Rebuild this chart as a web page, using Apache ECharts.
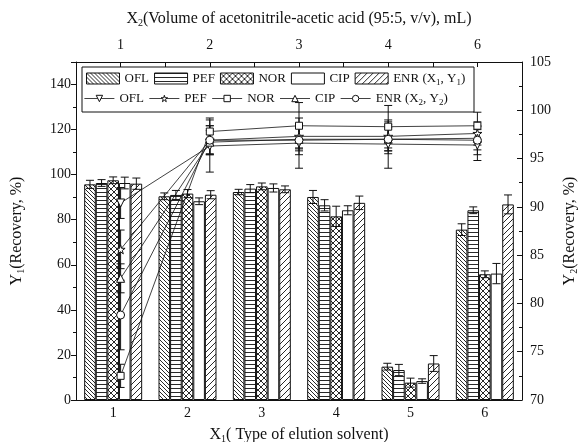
<!DOCTYPE html>
<html>
<head>
<meta charset="UTF-8">
<script src="https://cdn.jsdelivr.net/npm/echarts@6/dist/echarts.min.js"></script>
<style>
  html, body { margin: 0; padding: 0; background: #fff; }
  #main { width: 584px; height: 442px; }
</style>
</head>
<body>
<div id="main"></div>
<script>
// X1 categories (bottom) and bar data (Y1, left axis)
var cats = ['1', '2', '3', '4', '5', '6'];
var barNames = ['OFL', 'PEF', 'NOR', 'CIP', 'ENR (X1, Y1)'];
var oflBar = [95.7, 90.4, 92.3, 90.1, 14.8, 75.6];
var oflBarErr = [1.8, 1.5, 1.2, 2.9, 1.5, 2.6];
var pefBar = [96.3, 91.0, 93.8, 86.4, 13.3, 84.2];
var pefBarErr = [1.5, 2.0, 1.8, 2.5, 2.5, 1.5];
var norBar = [97.5, 91.6, 94.8, 81.5, 7.7, 55.8];
var norBarErr = [1.5, 1.8, 1.5, 4.5, 2.0, 1.5];
var cipBar = [96.3, 88.2, 94.1, 84.2, 8.4, 56.1];
var cipBarErr = [2.6, 1.5, 1.8, 2.0, 1.0, 4.5];
var enrBar = [96.0, 91.1, 93.5, 87.5, 16.2, 86.8];
var enrBarErr = [2.5, 1.8, 1.5, 3.0, 3.5, 4.2];

// X2 (top) and line data (Y2, right axis)
var x2Labels = ['1', '2', '3', '4', '6'];
var lineNames = ['OFL_2', 'PEF_2', 'NOR_2', 'CIP_2', 'ENR (X2, Y2)'];
var oflLine = [90.4, 96.3, 96.6, 96.5, 96.4];
var oflLineErr = [1.6, 2.7, 2.6, 2.5, 1.6];
var pefLine = [85.6, 96.9, 97.3, 97.3, 97.6];
var pefLineErr = [2.0, 1.5, 1.2, 1.5, 1.2];
var norLine = [72.5, 97.8, 98.4, 98.3, 98.4];
var norLineErr = [1.2, 1.4, 2.4, 2.2, 1.4];
var cipLine = [82.6, 96.7, 97.0, 97.0, 97.1];
var cipLineErr = [1.5, 1.2, 1.2, 1.2, 1.2];
var enrLine = [78.8, 96.9, 96.9, 97.0, 96.9];
var enrLineErr = [3.6, 1.5, 1.5, 1.5, 1.5];

var FONT = 'Liberation Serif';
var CAT_GAP = 0.22;

// hatch patterns for the bars
function hatch(kind, s) {
    var c = document.createElement('canvas');
    c.width = s; c.height = s;
    var g = c.getContext('2d');
    g.fillStyle = '#fff';
    g.fillRect(0, 0, s, s);
    g.strokeStyle = '#111';
    g.lineWidth = 0.9;
    g.beginPath();
    if (kind == 'h') {
        g.moveTo(0, 0.5); g.lineTo(s, 0.5);
    }
    if (kind == 'b' || kind == 'x') {
        for (var k = -1; k <= 1; k++) { g.moveTo(k * s, 0); g.lineTo(k * s + s, s); }
    }
    if (kind == 'f' || kind == 'x') {
        for (var k = -1; k <= 1; k++) { g.moveTo(k * s, s); g.lineTo(k * s + s, 0); }
    }
    g.stroke();
    return { image: c, repeat: 'repeat' };
}

var barData = [oflBar, pefBar, norBar, cipBar, enrBar];
var barErr = [oflBarErr, pefBarErr, norBarErr, cipBarErr, enrBarErr];
var barFill = [hatch('b', 4), hatch('h', 4), hatch('x', 6), '#fff', hatch('f', 6)];

var lineData = [oflLine, pefLine, norLine, cipLine, enrLine];
var lineErr = [oflLineErr, pefLineErr, norLineErr, cipLineErr, enrLineErr];
var star = 'path://M50,0 L61,35 L98,35 L68,57 L79,91 L50,70 L21,91 L32,57 L2,35 L39,35 Z';
var lineSymbols = ['triangle', star, 'rect', 'triangle', 'circle'];
var lineRotate = [180, 0, 0, 0, 0];
var lineSizes = [8, 9, 7, 8, 8];

var series = [];
for (var i = 0; i < 5; i++) {
    series.push({
        name: barNames[i],
        type: 'bar',
        data: barData[i],
        barGap: '0%',
        barCategoryGap: (CAT_GAP * 100) + '%',
        itemStyle: { color: barFill[i], borderColor: '#111', borderWidth: 1 },
        z: 2
    });
}

var barErrPts = [];
for (var i = 0; i < 5; i++) {
    for (var j = 0; j < cats.length; j++) {
        barErrPts.push([j, barData[i][j], barErr[i][j], i]);
    }
}
series.push({
    type: 'custom',
    xAxisIndex: 0,
    yAxisIndex: 0,
    data: barErrPts,
    z: 3,
    silent: true,
    renderItem: function (params, api) {
        var ci = api.value(0), v = api.value(1), e = api.value(2), si = api.value(3);
        var c = api.coord([ci, v]);
        var bw = api.size([1, 0])[0];
        var gw = bw * (1 - CAT_GAP);
        var w = gw / 5;
        var x = c[0] - gw / 2 + w * (si + 0.5);
        var t = api.coord([ci, v + e])[1];
        var b = api.coord([ci, v - e])[1];
        var st = { stroke: '#111', lineWidth: 1 };
        return {
            type: 'group',
            children: [
                { type: 'line', shape: { x1: x, y1: t, x2: x, y2: b }, style: st },
                { type: 'line', shape: { x1: x - 4, y1: t, x2: x + 4, y2: t }, style: st },
                { type: 'line', shape: { x1: x - 4, y1: b, x2: x + 4, y2: b }, style: st }
            ]
        };
    }
});

for (var i = 0; i < 5; i++) {
    var pts = [];
    for (var j = 0; j < x2Labels.length; j++) pts.push([j + 1, lineData[i][j]]);
    series.push({
        name: lineNames[i],
        type: 'line',
        xAxisIndex: 1,
        yAxisIndex: 1,
        data: pts,
        symbol: lineSymbols[i],
        symbolRotate: lineRotate[i],
        symbolSize: lineSizes[i],
        showAllSymbol: true,
        lineStyle: { color: '#111', width: 0.8 },
        itemStyle: { color: '#fff', borderColor: '#111', borderWidth: 1 },
        z: 5
    });
}

var lineErrPts = [];
for (var i = 0; i < 5; i++) {
    for (var j = 0; j < x2Labels.length; j++) {
        lineErrPts.push([j + 1, lineData[i][j], lineErr[i][j]]);
    }
}
series.push({
    type: 'custom',
    xAxisIndex: 1,
    yAxisIndex: 1,
    data: lineErrPts,
    z: 4,
    silent: true,
    renderItem: function (params, api) {
        var xv = api.value(0), v = api.value(1), e = api.value(2);
        var t = api.coord([xv, v + e]);
        var b = api.coord([xv, v - e]);
        var x = t[0];
        var st = { stroke: '#111', lineWidth: 1 };
        return {
            type: 'group',
            children: [
                { type: 'line', shape: { x1: x, y1: t[1], x2: x, y2: b[1] }, style: st },
                { type: 'line', shape: { x1: x - 4, y1: t[1], x2: x + 4, y2: t[1] }, style: st },
                { type: 'line', shape: { x1: x - 4, y1: b[1], x2: x + 4, y2: b[1] }, style: st }
            ]
        };
    }
});

var subRich = {
    n: { fontFamily: FONT, fontSize: 16, color: '#111' },
    s: { fontFamily: FONT, fontSize: 10, color: '#111', padding: [9, 0, 0, 0] }
};
var legRich = {
    s: { fontFamily: FONT, fontSize: 9, color: '#111', padding: [8, 0, 0, 0] }
};

function legendText(name) {
    var t = name.replace('_2', '');
    return t.replace(/([XY])([12])/g, '$1{s|$2}');
}

var chart = echarts.init(document.getElementById('main'), null, { renderer: 'canvas' });
chart.setOption({
    backgroundColor: '#fff',
    animation: false,
    textStyle: { fontFamily: FONT },
    grid: { left: 76, right: 62, top: 62, bottom: 42, outerBoundsMode: 'none', containLabel: false },
    legend: [
        {
            data: barNames,
            left: 86, top: 72,
            icon: 'rect',
            itemWidth: 33, itemHeight: 11,
            itemGap: 5,
            padding: 0,
            formatter: legendText,
            itemStyle: { borderColor: '#111', borderWidth: 1 },
            textStyle: { fontFamily: FONT, fontSize: 13, color: '#111', rich: legRich },
            selectedMode: false
        },
        {
            data: lineNames,
            left: 84, top: 92,
            itemWidth: 30, itemHeight: 8,
            itemGap: 5,
            padding: 0,
            formatter: legendText,
            itemStyle: { color: '#fff', borderColor: '#111', borderWidth: 1 },
            lineStyle: { color: '#111', width: 0.8 },
            textStyle: { fontFamily: FONT, fontSize: 13, color: '#111', rich: legRich },
            selectedMode: false
        }
    ],
    graphic: [{
        type: 'rect',
        shape: { x: 82, y: 67, width: 392, height: 45 },
        style: { fill: 'none', stroke: '#111', lineWidth: 1 },
        z: 10
    }],
    xAxis: [
        {
            type: 'category',
            data: cats,
            position: 'bottom',
            name: '{n|X}{s|1}{n|( Type of elution solvent)}',
            nameLocation: 'middle',
            nameGap: 25,
            nameTextStyle: { rich: subRich },
            axisLine: { lineStyle: { color: '#111', width: 1 } },
            axisTick: { alignWithLabel: true, length: 5, lineStyle: { color: '#111' } },
            axisLabel: { fontFamily: FONT, fontSize: 14, color: '#111', margin: 6 },
            splitLine: { show: false }
        },
        {
            type: 'value',
            position: 'top',
            min: 0.5, max: 5.5, interval: 0.5,
            name: '{n|X}{s|2}{n|(Volume of acetonitrile-acetic acid (95:5, v/v), mL)}',
            nameLocation: 'middle',
            nameGap: 34,
            nameTextStyle: { rich: subRich },
            axisLine: { lineStyle: { color: '#111', width: 1 } },
            axisTick: { inside: true, length: 5, lineStyle: { color: '#111' } },
            axisLabel: {
                fontFamily: FONT, fontSize: 14, color: '#111', margin: 10,
                showMinLabel: false, showMaxLabel: false,
                formatter: function (v) {
                    return Number.isInteger(v) ? x2Labels[v - 1] : '';
                }
            },
            splitLine: { show: false }
        }
    ],
    yAxis: [
        {
            type: 'value',
            position: 'left',
            min: 0, max: 150, interval: 20,
            name: '{n|Y}{s|1}{n|(Recovery, %)}',
            nameLocation: 'middle',
            nameGap: 50,
            nameTextStyle: { rich: subRich },
            axisLine: { show: true, lineStyle: { color: '#111', width: 1 } },
            axisTick: { show: true, length: 5, lineStyle: { color: '#111' } },
            minorTick: { show: true, splitNumber: 2, length: 3, lineStyle: { color: '#111' } },
            axisLabel: { fontFamily: FONT, fontSize: 14, color: '#111', margin: 5, showMaxLabel: false },
            splitLine: { show: false }
        },
        {
            type: 'value',
            position: 'right',
            min: 70, max: 105, interval: 5,
            name: '{n|Y}{s|2}{n|(Recovery, %)}',
            nameLocation: 'middle',
            nameGap: 38,
            nameTextStyle: { rich: subRich },
            axisLine: { show: true, lineStyle: { color: '#111', width: 1 } },
            axisTick: { show: true, inside: true, length: 5, lineStyle: { color: '#111' } },
            minorTick: { show: true, splitNumber: 2, length: 3, lineStyle: { color: '#111' } },
            axisLabel: { fontFamily: FONT, fontSize: 14, color: '#111', margin: 8 },
            splitLine: { show: false }
        }
    ],
    series: series
});
</script>
</body>
</html>
